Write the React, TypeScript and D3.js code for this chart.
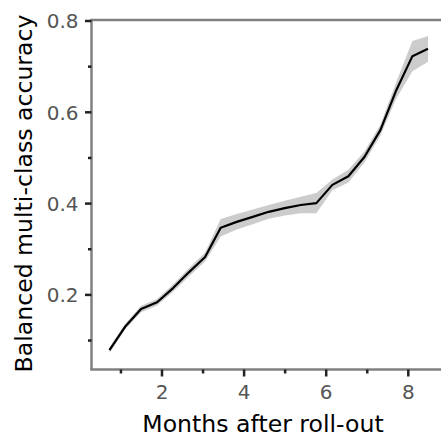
import React from "react";
import * as d3 from "d3";

const months = [0.72, 1.10, 1.49, 1.88, 2.27, 2.66, 3.05, 3.43, 3.82, 4.21, 4.60, 4.99, 5.38, 5.76, 6.15, 6.54, 6.93, 7.32, 7.71, 8.10, 8.48];
const accuracy = [0.079, 0.130, 0.169, 0.184, 0.215, 0.250, 0.283, 0.347, 0.360, 0.371, 0.382, 0.390, 0.397, 0.401, 0.441, 0.460, 0.502, 0.561, 0.649, 0.723, 0.739];
const halfWidth = [0.006, 0.006, 0.007, 0.007, 0.008, 0.009, 0.010, 0.019, 0.017, 0.016, 0.015, 0.016, 0.018, 0.022, 0.012, 0.014, 0.012, 0.012, 0.018, 0.033, 0.028];
const xMajorTicks = [2, 4, 6, 8];
const xMinorTicks = [1, 3, 5, 7];
const yMajorTicks = [0.2, 0.4, 0.6, 0.8];
const yMinorTicks = [0.1, 0.3, 0.5, 0.7];

const W = 441;
const H = 437;
const FONT = "DejaVu Sans, sans-serif";

export default function App() {
  const left = 91.5;
  const top = 20;
  const bottom = 369.5;
  const x = d3.scaleLinear().domain([0, 8]).range([79.9, 79.9 + 8 * 41.05]);
  const y = d3.scaleLinear().domain([0.8, 0.2]).range([21, 21 + 0.6 * 456.5]);

  const pts = months.map((m, i) => ({ m, v: accuracy[i], lo: accuracy[i] - halfWidth[i], hi: accuracy[i] + halfWidth[i] }));
  const line = d3.line<any>().x((d) => x(d.m)).y((d) => y(d.v));
  const area = d3.area<any>().x((d) => x(d.m)).y0((d) => y(d.lo)).y1((d) => y(d.hi));

  return (
    <svg width={W} height={H} style={{ display: "block", position: "absolute", left: 0, top: 0 }}>
      <rect width={W} height={H} fill="#fff" />
      <path d={area(pts) || ""} fill="#cccccc" stroke="none" />
      <path d={line(pts) || ""} fill="none" stroke="#000" strokeWidth={2.2} strokeLinejoin="round" />
      {/* spines */}
      <line x1={left} x2={left} y1={top} y2={bottom} stroke="#808080" strokeWidth={2.5} />
      <line x1={left - 1.25} x2={W} y1={top} y2={top} stroke="#808080" strokeWidth={2.5} />
      <line x1={left - 1.25} x2={W} y1={bottom} y2={bottom} stroke="#808080" strokeWidth={2.5} />
      {/* y ticks */}
      {yMajorTicks.map((t) => (
        <g key={"ym" + t}>
          <line x1={left - 6.5} x2={left} y1={y(t)} y2={y(t)} stroke="#222" strokeWidth={2.5} />
          <text x={left - 13} y={y(t)} dy="0.36em" textAnchor="end" fontFamily={FONT} fontSize={20} fill="#555">
            {t.toFixed(1)}
          </text>
        </g>
      ))}
      {yMinorTicks.map((t) => (
        <line key={"yn" + t} x1={left - 3.5} x2={left} y1={y(t)} y2={y(t)} stroke="#222" strokeWidth={2.5} />
      ))}
      {/* x ticks */}
      {xMajorTicks.map((t) => (
        <g key={"xm" + t}>
          <line x1={x(t)} x2={x(t)} y1={bottom} y2={bottom + 7} stroke="#222" strokeWidth={2.5} />
          <text x={x(t)} y={399} textAnchor="middle" fontFamily={FONT} fontSize={20} fill="#555">
            {t}
          </text>
        </g>
      ))}
      {xMinorTicks.map((t) => (
        <line key={"xn" + t} x1={x(t)} x2={x(t)} y1={bottom} y2={bottom + 4} stroke="#222" strokeWidth={2.5} />
      ))}
      <text x={263} y={431.5} textAnchor="middle" fontFamily={FONT} fontSize={23.6} fill="#000">
        Months after roll-out
      </text>
      <text transform={`translate(32,${(15 + 372) / 2}) rotate(-90)`} textAnchor="middle" fontFamily={FONT} fontSize={23.6} fill="#000">
        Balanced multi-class accuracy
      </text>
    </svg>
  );
}
